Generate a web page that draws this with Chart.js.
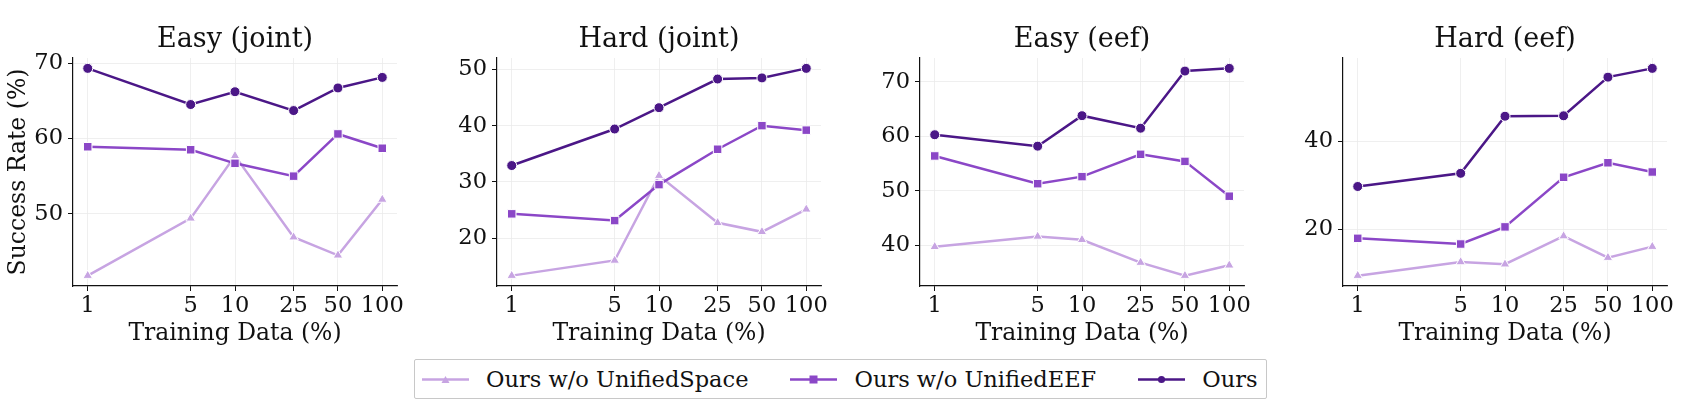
<!DOCTYPE html>
<html>
<head>
<meta charset="utf-8">
<script src="https://cdn.jsdelivr.net/npm/chart.js@4"></script>
<style>
  body { margin: 0; background: #fff; }
  #wrap { position: relative; width: 1686px; height: 410px; overflow: hidden; font-family: 'DejaVu Serif', serif; }
  #wrap canvas { position: absolute; top: 0; }
  #legend {
    position: absolute; left: 414px; top: 359px; width: 853px; height: 40px;
    border: 1px solid #c8c8c8; border-radius: 2px; box-sizing: border-box;
    display: flex; align-items: center; padding-left: 7px; gap: 42px;
    font-size: 22.5px; color: #111;
  }
  .item { display: flex; align-items: center; gap: 17px; white-space: nowrap; }
</style>
</head>
<body>
<div id="wrap">
  <canvas id="c0" width="422" height="348" style="left:0px"></canvas>
  <canvas id="c1" width="422" height="348" style="left:424px"></canvas>
  <canvas id="c2" width="422" height="348" style="left:847px"></canvas>
  <canvas id="c3" width="422" height="348" style="left:1270px"></canvas>
  <div id="legend"></div>
</div>
<script>
// Data
const xTicks = [1, 5, 10, 25, 50, 100];
const panelTitles = ['Easy (joint)', 'Hard (joint)', 'Easy (eef)', 'Hard (eef)'];
const seriesNames = ['Ours w/o UnifiedSpace', 'Ours w/o UnifiedEEF', 'Ours'];

const woSpace = [
    [41.8, 49.4, 57.7, 46.9, 44.5, 51.9],
    [13.3, 16.0, 31.1, 22.7, 21.1, 25.1],
    [39.7, 41.6, 41.0, 36.8, 34.4, 36.3],
    [9.4, 12.5, 12.0, 18.4, 13.5, 16.0]
];
const woEEF = [
    [58.9, 58.5, 56.7, 55.0, 60.6, 58.7],
    [24.3, 23.1, 29.5, 35.8, 40.0, 39.2],
    [56.4, 51.3, 52.6, 56.7, 55.4, 49.0],
    [17.9, 16.6, 20.5, 31.8, 35.1, 33.0]
];
const ours = [
    [69.3, 64.5, 66.2, 63.7, 66.7, 68.1],
    [32.9, 39.4, 43.2, 48.3, 48.5, 50.2],
    [60.3, 58.2, 63.8, 61.5, 72.0, 72.5],
    [29.7, 32.7, 45.7, 45.8, 54.6, 56.6]
];
const yStep = [10, 10, 10, 20];

const colors = ['#c7a4e2', '#8b47c7', '#4b1787'];
const styles = ['triangle', 'rect', 'circle'];
const radii = [5.5, 6, 5];
const FONT = 'DejaVu Serif';

Chart.defaults.font.family = FONT;
Chart.defaults.color = '#111';

function makeChart(i) {
    const series = [woSpace[i], woEEF[i], ours[i]];
    const all = series.flat();
    const lo = Math.min(...all), hi = Math.max(...all);
    const pad = (hi - lo) * 0.05;

    const datasets = series.map((vals, k) => ({
        label: seriesNames[k],
        data: vals.map((v, j) => ({ x: xTicks[j], y: v })),
        borderColor: colors[k],
        backgroundColor: colors[k],
        pointBackgroundColor: colors[k],
        pointBorderColor: '#fff',
        pointBorderWidth: 1,
        pointStyle: styles[k],
        pointRadius: radii[k],
        borderWidth: 2.5,
        tension: 0,
        order: 3 - k
    }));

    new Chart(document.getElementById('c' + i), {
        type: 'line',
        data: { datasets },
        options: {
            responsive: false,
            animation: false,
            layout: { padding: { top: 0, right: 25, bottom: 0, left: 0 } },
            plugins: {
                legend: { display: false },
                tooltip: { enabled: false },
                title: {
                    display: true,
                    text: panelTitles[i],
                    fullSize: false,
                    font: { size: 27, weight: 'normal' },
                    color: '#111',
                    padding: { top: 24, bottom: 1.6 }
                }
            },
            scales: {
                x: {
                    type: 'logarithmic',
                    min: Math.pow(10, -0.1),
                    max: Math.pow(10, 2.1),
                    afterBuildTicks: s => { s.ticks = xTicks.map(v => ({ value: v })); },
                    afterFit: s => { s.height = 62; },
                    ticks: { callback: v => String(v), font: { size: 22.5 }, padding: 2, maxRotation: 0, autoSkip: false },
                    grid: { color: '#ebebeb', lineWidth: 0.8, tickColor: '#111', tickLength: 5, tickWidth: 1 },
                    border: { color: '#111', width: 1.2 },
                    title: { display: true, text: 'Training Data (%)', font: { size: 23.5 }, padding: { top: 0, bottom: 0 } }
                },
                y: {
                    type: 'linear',
                    min: lo - pad,
                    max: hi + pad,
                    afterBuildTicks: s => {
                        const st = yStep[i];
                        const t = [];
                        for (let v = Math.ceil(s.min / st) * st; v <= s.max; v += st) t.push({ value: v });
                        s.ticks = t;
                    },
                    afterFit: s => { s.width = 73; },
                    ticks: { font: { size: 22.5 }, padding: 5 },
                    grid: { color: '#ebebeb', lineWidth: 0.8, tickColor: '#111', tickLength: 5, tickWidth: 1 },
                    border: { color: '#111', width: 1.2 },
                    title: { display: i === 0, text: 'Success Rate (%)', font: { size: 23.5 }, padding: { top: 5, bottom: 0 } }
                }
            }
        }
    });
}

for (let i = 0; i < panelTitles.length; i++) makeChart(i);

// shared legend below the panels
const markerSvg = [
    c => `<polygon points="23.5,6 27.5,13 19.5,13" fill="${c}"/>`,
    c => `<rect x="19.5" y="5.5" width="8" height="8" fill="${c}"/>`,
    c => `<circle cx="23.5" cy="9.5" r="3.6" fill="${c}"/>`
];
const legend = document.getElementById('legend');
seriesNames.forEach((name, k) => {
    const item = document.createElement('div');
    item.className = 'item';
    item.innerHTML =
        `<svg width="47" height="19"><line x1="0" y1="9.5" x2="47" y2="9.5" stroke="${colors[k]}" stroke-width="2.4"/>${markerSvg[k](colors[k])}</svg>` +
        `<span>${name}</span>`;
    legend.appendChild(item);
});
</script>
</body>
</html>
